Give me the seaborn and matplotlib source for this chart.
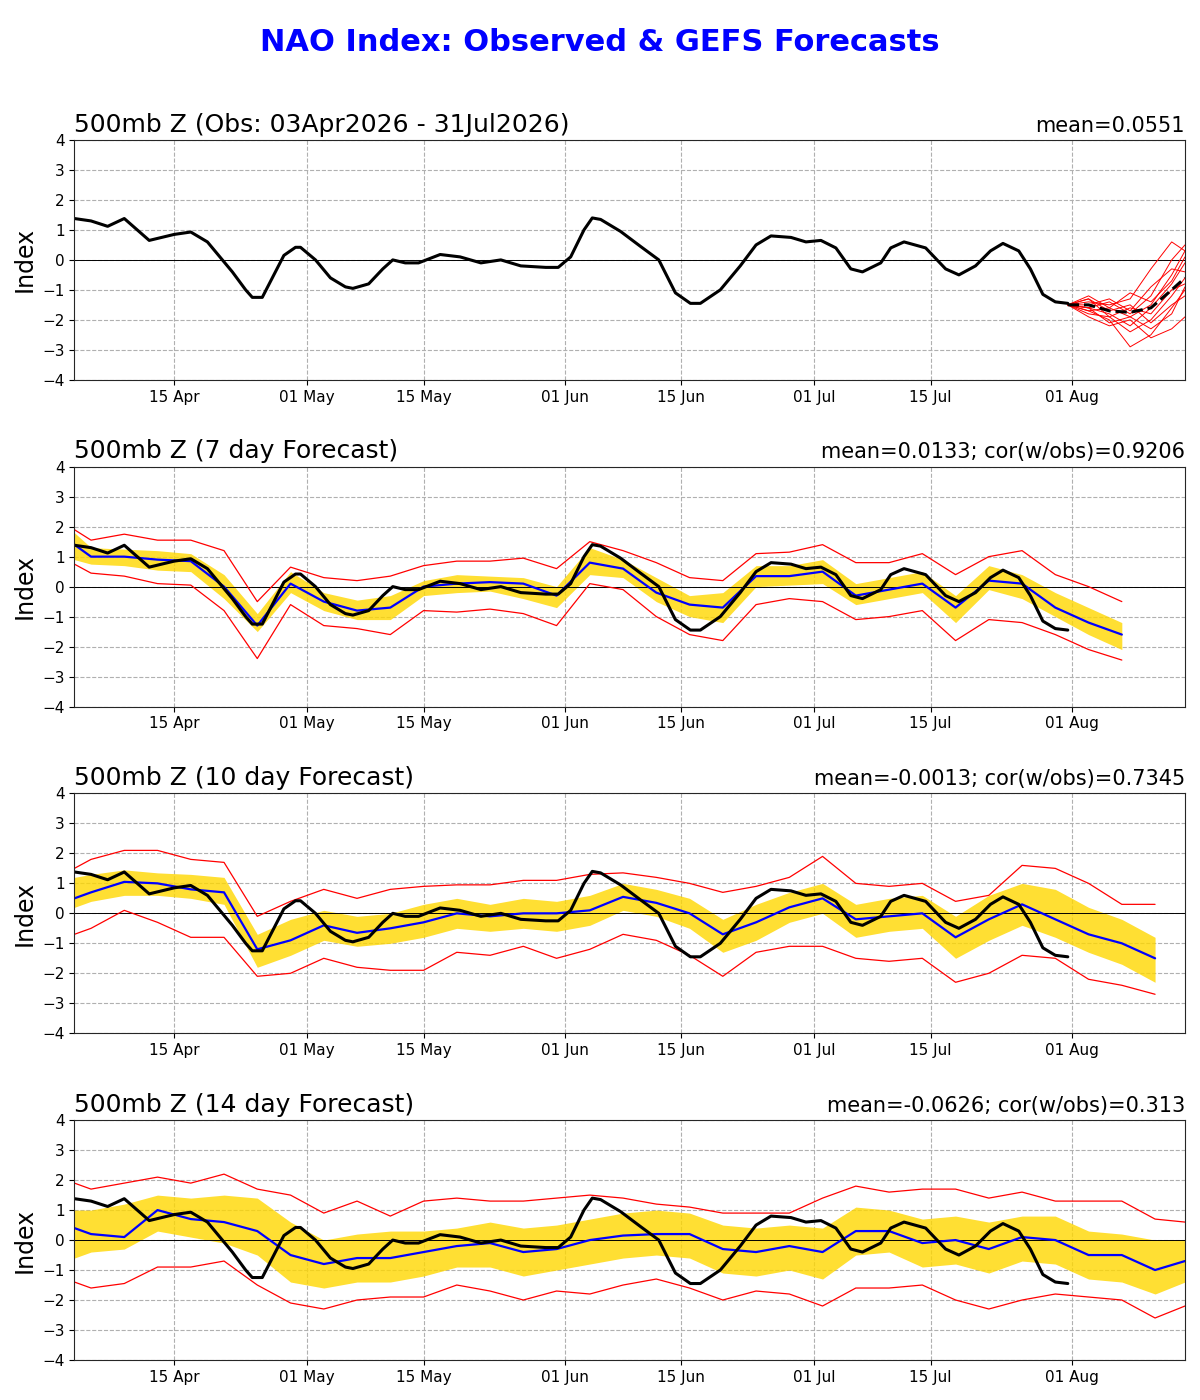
import numpy as np
import pandas as pd
import seaborn as sns
import matplotlib.pyplot as plt

# Observed NAO index (day offsets from 03Apr2026)
obs_days = [0, 2, 4, 6, 9, 12, 14, 16, 19, 20.6, 21.4, 22.6, 25.2, 26.6, 27.2, 29, 30.8, 32.6, 33.5, 35.4,
            37.1, 38.3, 39.8, 41.4, 44, 46.4, 48.9, 51.3, 53.7, 56.7, 58.2, 59.7, 61.3, 62.3, 63.3, 65.7,
            68.1, 70.3, 72.3, 74.1, 75.3, 77.7, 80.1, 82, 83.8, 86.2, 88, 89.8, 91.6, 93.4, 94.8, 97,
            98.2, 99.8, 102.4, 104.8, 106.4, 108.4, 110.2, 111.7, 113.6, 115, 116.5, 118, 119.5]
obs_vals = [1.38, 1.3, 1.12, 1.38, 0.65, 0.85, 0.93, 0.6, -0.4, -1.0, -1.25, -1.25, 0.15, 0.42, 0.42, 0.0, -0.6,
            -0.9, -0.95, -0.8, -0.3, 0.0, -0.1, -0.1, 0.18, 0.1, -0.1, 0.0, -0.2, -0.25, -0.25, 0.1, 1.0,
            1.4, 1.35, 0.95, 0.45, 0.0, -1.1, -1.45, -1.45, -1.0, -0.2, 0.5, 0.8, 0.75, 0.6, 0.65, 0.4,
            -0.3, -0.4, -0.1, 0.4, 0.6, 0.4, -0.3, -0.5, -0.2, 0.3, 0.55, 0.3, -0.3, -1.15, -1.4, -1.45]

# GEFS ensemble members from the last observation
ens_days = [119.5, 122, 124.5, 127, 129.5, 132, 133.6]
ens_members = [
    [-1.5, -1.6, -1.4, -1.8, -1.2, 0.0, 0.5],
    [-1.5, -1.3, -1.9, -2.4, -2.0, -1.2, -0.6],
    [-1.5, -1.7, -2.0, -2.9, -2.5, -1.6, -1.0],
    [-1.5, -1.4, -1.5, -1.3, -0.3, 0.6, 0.3],
    [-1.5, -1.8, -1.9, -1.6, -1.8, -1.0, -0.8],
    [-1.5, -1.2, -1.6, -1.9, -1.5, -0.5, 0.3],
    [-1.5, -1.9, -2.2, -2.0, -2.6, -2.3, -1.9],
    [-1.5, -1.5, -1.3, -1.7, -0.9, -0.3, -0.4],
    [-1.5, -1.6, -1.8, -2.2, -1.6, -0.8, -0.1],
    [-1.5, -1.3, -1.7, -1.5, -2.1, -1.5, -1.2],
    [-1.5, -1.7, -1.6, -1.1, -1.4, -0.7, 0.1],
    [-1.5, -1.6, -2.1, -1.9, -2.3, -1.8, -0.9],
]
ens_mean = [-1.5, -1.5, -1.7, -1.75, -1.6, -1.0, -0.6]

# forecast verification grid (days)
fc_days = [0, 2, 6, 10, 14, 18, 22, 26, 30, 34, 38, 42, 46, 50, 54, 58, 62, 66, 70, 74, 78, 82, 86,
           90, 94, 98, 102, 106, 110, 114, 118, 122, 126, 130, 133.6]

# 7 day forecast
f7_mean = [1.4, 1.0, 1.0, 0.9, 0.85, 0.0, -1.3, 0.1, -0.5, -0.8, -0.7, 0.0, 0.1, 0.15, 0.1, -0.3, 0.8,
           0.6, -0.2, -0.6, -0.7, 0.35, 0.35, 0.5, -0.3, -0.1, 0.1, -0.7, 0.2, 0.1, -0.7, -1.2, -1.6]
f7_lo = [0.9, 0.75, 0.7, 0.55, 0.5, -0.4, -1.5, -0.2, -0.8, -1.1, -1.1, -0.3, -0.2, -0.15, -0.4, -0.7,
         0.4, 0.3, -0.5, -1.0, -1.2, 0.0, 0.05, 0.1, -0.6, -0.4, -0.2, -1.2, -0.1, -0.4, -1.0, -1.6, -2.1]
f7_hi = [1.8, 1.3, 1.25, 1.2, 1.1, 0.4, -0.9, 0.5, -0.2, -0.45, -0.3, 0.2, 0.4, 0.35, 0.3, 0.0, 1.3,
         0.9, 0.3, -0.3, -0.2, 0.7, 0.7, 0.9, 0.1, 0.3, 0.5, -0.3, 0.7, 0.4, -0.2, -0.7, -1.2]
f7_min = [0.75, 0.45, 0.35, 0.1, 0.05, -0.8, -2.4, -0.6, -1.3, -1.4, -1.6, -0.8, -0.85, -0.75, -0.9, -1.3,
          0.1, -0.1, -1.0, -1.6, -1.8, -0.6, -0.4, -0.5, -1.1, -1.0, -0.8, -1.8, -1.1, -1.2, -1.6, -2.1, -2.45]
f7_max = [1.9, 1.55, 1.75, 1.55, 1.55, 1.2, -0.5, 0.65, 0.3, 0.2, 0.35, 0.7, 0.85, 0.85, 0.95, 0.6, 1.5,
          1.2, 0.8, 0.3, 0.2, 1.1, 1.15, 1.4, 0.8, 0.8, 1.1, 0.4, 1.0, 1.2, 0.4, 0.0, -0.5]

# 10 day forecast
f10_mean = [0.5, 0.7, 1.05, 1.0, 0.8, 0.7, -1.2, -0.9, -0.4, -0.65, -0.5, -0.3, 0.0, -0.1, 0.0, 0.0, 0.1,
            0.55, 0.35, 0.0, -0.7, -0.3, 0.2, 0.5, -0.2, -0.1, 0.0, -0.8, -0.2, 0.3, -0.2, -0.7, -1.0, -1.5]
f10_lo = [0.2, 0.4, 0.6, 0.6, 0.5, 0.3, -1.8, -1.4, -0.9, -1.1, -1.0, -0.8, -0.5, -0.6, -0.5, -0.6, -0.4,
          0.1, -0.1, -0.5, -1.3, -0.9, -0.3, 0.0, -0.8, -0.6, -0.5, -1.5, -0.9, -0.4, -0.8, -1.3, -1.7, -2.3]
f10_hi = [1.2, 1.3, 1.45, 1.35, 1.3, 1.2, -0.7, -0.2, 0.1, -0.1, 0.0, 0.3, 0.5, 0.3, 0.5, 0.4, 0.6, 1.0,
          0.8, 0.5, -0.2, 0.3, 0.7, 1.0, 0.3, 0.5, 0.6, -0.1, 0.6, 1.0, 0.8, 0.2, -0.2, -0.8]
f10_min = [-0.7, -0.5, 0.1, -0.3, -0.8, -0.8, -2.1, -2.0, -1.5, -1.8, -1.9, -1.9, -1.3, -1.4, -1.1, -1.5,
           -1.2, -0.7, -0.9, -1.4, -2.1, -1.3, -1.1, -1.1, -1.5, -1.6, -1.5, -2.3, -2.0, -1.4, -1.5, -2.2,
           -2.4, -2.7]
f10_max = [1.5, 1.8, 2.1, 2.1, 1.8, 1.7, -0.1, 0.4, 0.8, 0.5, 0.8, 0.9, 0.95, 0.95, 1.1, 1.1, 1.3, 1.35,
           1.2, 1.0, 0.7, 0.9, 1.2, 1.9, 1.0, 0.9, 1.0, 0.4, 0.6, 1.6, 1.5, 1.0, 0.3, 0.3]

# 14 day forecast
f14_mean = [0.4, 0.2, 0.1, 1.0, 0.7, 0.6, 0.3, -0.5, -0.8, -0.6, -0.6, -0.4, -0.2, -0.1, -0.4, -0.3, 0.0,
            0.15, 0.2, 0.2, -0.3, -0.4, -0.2, -0.4, 0.3, 0.3, -0.1, 0.0, -0.3, 0.1, 0.0, -0.5, -0.5, -1.0, -0.7]
f14_lo = [-0.6, -0.4, -0.3, 0.3, 0.1, -0.1, -0.5, -1.4, -1.6, -1.4, -1.4, -1.2, -0.9, -0.9, -1.2, -1.0,
          -0.8, -0.6, -0.5, -0.6, -1.1, -1.2, -1.0, -1.3, -0.5, -0.4, -0.9, -0.8, -1.1, -0.7, -0.8, -1.3,
          -1.4, -1.8, -1.4]
f14_hi = [1.0, 1.0, 1.2, 1.5, 1.4, 1.5, 1.4, 0.6, 0.0, 0.2, 0.3, 0.3, 0.4, 0.6, 0.4, 0.5, 0.7, 0.9, 1.0,
          0.9, 0.5, 0.4, 0.5, 0.4, 1.1, 1.0, 0.7, 0.8, 0.6, 0.8, 0.8, 0.3, 0.2, 0.0, 0.0]
f14_min = [-1.4, -1.6, -1.45, -0.9, -0.9, -0.7, -1.5, -2.1, -2.3, -2.0, -1.9, -1.9, -1.5, -1.7, -2.0, -1.7,
           -1.8, -1.5, -1.3, -1.6, -2.0, -1.7, -1.8, -2.2, -1.6, -1.6, -1.5, -2.0, -2.3, -2.0, -1.8, -1.9,
           -2.0, -2.6, -2.2]
f14_max = [1.9, 1.7, 1.9, 2.1, 1.9, 2.2, 1.7, 1.5, 0.9, 1.3, 0.8, 1.3, 1.4, 1.3, 1.3, 1.4, 1.5, 1.4, 1.2,
           1.1, 0.9, 0.9, 0.9, 1.4, 1.8, 1.6, 1.7, 1.7, 1.4, 1.6, 1.3, 1.3, 1.3, 0.7, 0.6]

start = pd.Timestamp("2026-04-03")
to_dates = lambda d: start + pd.to_timedelta(np.array(d), unit="D")

sns.set_style("ticks", {"axes.grid": True, "grid.linestyle": "--", "grid.color": "#b0b0b0",
                        "text.color": "black", "axes.labelcolor": "black",
                        "xtick.color": "black", "ytick.color": "black"})
plt.rcParams['font.family'] = ['DejaVu Sans']

fig, axes = plt.subplots(4, 1, figsize=(12, 14), dpi=100)
fig.subplots_adjust(left=0.062, right=0.9875, top=0.9, bottom=0.0286, hspace=0.3625)
fig.suptitle('NAO Index: Observed & GEFS Forecasts', color='blue', fontsize=22, fontweight='bold', y=0.98)

panels = [
    ('500mb Z (Obs: 03Apr2026 - 31Jul2026)', 'mean=0.0551', None),
    ('500mb Z (7 day Forecast)', 'mean=0.0133; cor(w/obs)=0.9206', (f7_mean, f7_lo, f7_hi, f7_min, f7_max)),
    ('500mb Z (10 day Forecast)', 'mean=-0.0013; cor(w/obs)=0.7345', (f10_mean, f10_lo, f10_hi, f10_min, f10_max)),
    ('500mb Z (14 day Forecast)', 'mean=-0.0626; cor(w/obs)=0.313', (f14_mean, f14_lo, f14_hi, f14_min, f14_max)),
]

for ax, (left, right, fc) in zip(axes, panels):
    ax.axhline(0, color='black', lw=0.7)
    if fc is None:
        for m in ens_members:
            sns.lineplot(x=to_dates(ens_days), y=m, ax=ax, color='red', lw=0.7)
        sns.lineplot(x=to_dates(obs_days), y=obs_vals, ax=ax, color='black', lw=2.2)
        sns.lineplot(x=to_dates(ens_days), y=ens_mean, ax=ax, color='black', lw=2.2, linestyle='--')
    else:
        mean, lo, hi, mn, mx = fc
        d = to_dates(fc_days[:len(mean)])
        ax.fill_between(d, lo, hi, color='#FFD700', alpha=0.8, lw=0)
        sns.lineplot(x=d, y=mn, ax=ax, color='red', lw=0.9)
        sns.lineplot(x=d, y=mx, ax=ax, color='red', lw=0.9)
        sns.lineplot(x=d, y=mean, ax=ax, color='blue', lw=1.6)
        sns.lineplot(x=to_dates(obs_days), y=obs_vals, ax=ax, color='black', lw=2.2)
    ax.set_xlim(start, start + pd.Timedelta(days=133.6))
    ax.set_ylim(-4, 4)
    ax.set_yticks(range(-4, 5))
    ticks = pd.to_datetime(['2026-04-15', '2026-05-01', '2026-05-15', '2026-06-01',
                            '2026-06-15', '2026-07-01', '2026-07-15', '2026-08-01'])
    ax.set_xticks(ticks)
    ax.set_xticklabels([t.strftime('%d %b') for t in ticks])
    ax.tick_params(labelsize=11)
    ax.set_xlabel('')
    ax.set_ylabel('Index', fontsize=17)
    ax.set_title(left, loc='left', fontsize=18)
    ax.set_title(right, loc='right', fontsize=15)

fig.savefig('out.png')
